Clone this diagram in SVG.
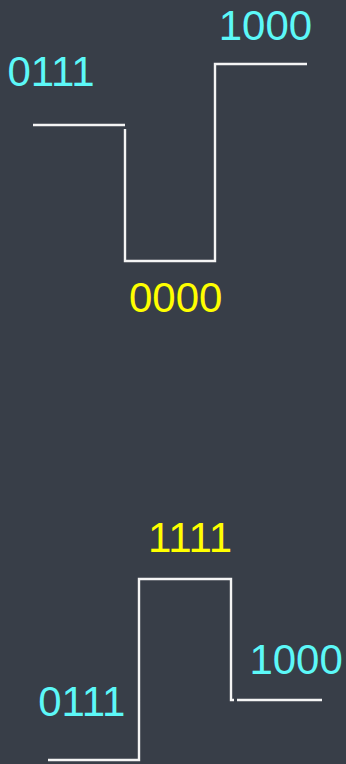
<svg xmlns="http://www.w3.org/2000/svg" width="346" height="764" viewBox="0 0 346 764">
<style>
.bg{fill:#383e48}
.w{fill:none;stroke:#f4f4f4;stroke-width:2.4}
.t{font-family:"Liberation Sans",Arial,sans-serif;font-size:42px}
.c{fill:#5cf8f8}
.y{fill:#ffff00}
</style>
<rect class="bg" x="0" y="0" width="346" height="764"/>
<g id="connectors">
<path class="w" d="M33 125H125"/>
<path class="w" d="M125 129V261H215V64H307"/>
<path class="w" d="M48 760H139V579H231V700H234"/>
<path class="w" d="M237 700H322"/>
</g>
<g id="top-0111"><text class="t c" x="7.5" y="86">0111</text></g>
<g id="top-1000"><text class="t c" x="218.7" y="40">1000</text></g>
<g id="top-0000"><text class="t y" x="129" y="312">0000</text></g>
<g id="bot-1111"><text class="t y" x="148" y="552">1111</text></g>
<g id="bot-1000"><text class="t c" x="249.4" y="674">1000</text></g>
<g id="bot-0111"><text class="t c" x="38.2" y="716">0111</text></g>
</svg>
